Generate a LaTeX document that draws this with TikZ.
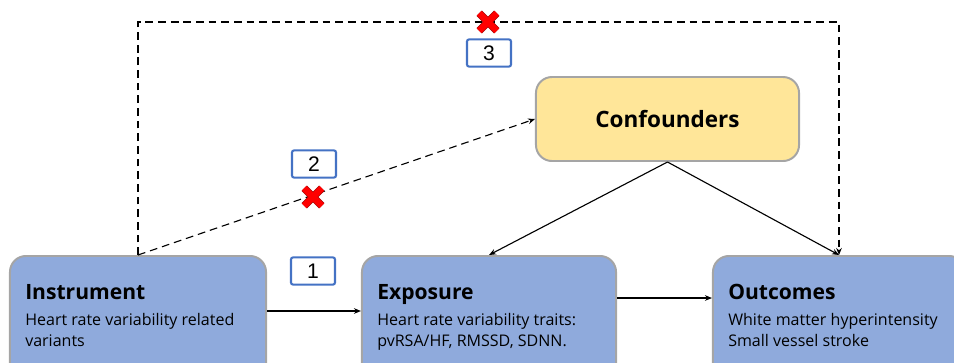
\documentclass[tikz,border=0pt]{standalone}
\usepackage{fontspec}
\setmainfont{Open Sans}
\setsansfont{Liberation Sans}
\usetikzlibrary{arrows.meta,shapes.misc}
\definecolor{boxblue}{HTML}{8FAADC}
\definecolor{boxyellow}{HTML}{FFE699}
\definecolor{boxedge}{HTML}{A5A5A5}
\definecolor{tagblue}{HTML}{4472C4}
\begin{document}
\begin{tikzpicture}
            [x=0.025cm, y=-0.025cm,
            mainbox/.style={draw=boxedge, line width=1.4pt, rounded corners=0.4cm, fill=boxblue, minimum height=3.1cm},
            boxtext/.style={anchor=north west, align=left, inner sep=0pt, font=\fontsize{11.4}{14.6}\selectfont},
            tag/.style={draw=tagblue, line width=1.5pt, rounded corners=1.5pt, fill=white, minimum width=1.1cm, minimum height=0.68cm, font=\sffamily\fontsize{15}{15}\selectfont},
            nopath/.style={cross out, draw=red!65!black, double=red, line width=0.5pt, double distance=4.4pt, minimum size=0.42cm, inner sep=0pt},
            arr/.style={-{Stealth[length=5pt, width=4pt]}, line width=0.8pt},
            dasharr/.style={arr, dash pattern=on 5.5pt off 3.5pt}]
            \useasboundingbox (0,0) rectangle (954,362);
            % the four boxes
            \node[mainbox, minimum width=6.4cm] (instr) at (138,318) {};
            \node[mainbox, minimum width=6.35cm] (expo) at (489,318) {};
            \node[mainbox, minimum width=6.3cm] (outc) at (839,318) {};
            \node[mainbox, fill=boxyellow, minimum width=6.575cm, minimum height=2.1cm, font=\fontsize{16}{18}\selectfont\bfseries] (conf) at (667.5,119) {Confounders};
            \node[boxtext] (instrtxt) at ([shift={(16,29)}]instr.north west)
                {{\fontsize{15}{18}\selectfont\bfseries Instrument}\\[4pt] Heart rate variability related\\ variants};
            \node[boxtext] (expotxt) at ([shift={(16,29)}]expo.north west)
                {{\fontsize{15}{18}\selectfont\bfseries Exposure}\\[4pt] Heart rate variability traits:\\ pvRSA/HF, RMSSD, SDNN.};
            \node[boxtext] (outctxt) at ([shift={(16,29)}]outc.north west)
                {{\fontsize{15}{18}\selectfont\bfseries Outcomes}\\[4pt] White matter hyperintensity\\ Small vessel stroke};
            % assumptions
            \node[tag] (t1) at (313,271) {1};
            \node[tag] (t2) at (314,164) {2};
            \node[tag] (t3) at (489,53) {3};
            % arrows
            \draw[arr] (instr.east |- 0,311) -- (expo.west |- 0,311);
            \draw[arr] (expo.east |- 0,298) -- (outc.west |- 0,298);
            \draw[arr] (conf.south) -- (expo.north);
            \draw[arr] (conf.south) -- (outc.north);
            \draw[dasharr] (instr.north) -- (conf.west);
            \draw[dasharr] (instr.north) -- (instr.north |- 0,22) -| (outc.north);
            \node[nopath] (x2) at (313,197) {};
            \node[nopath] (x3) at (488,22) {};
        \end{tikzpicture}
\end{document}
